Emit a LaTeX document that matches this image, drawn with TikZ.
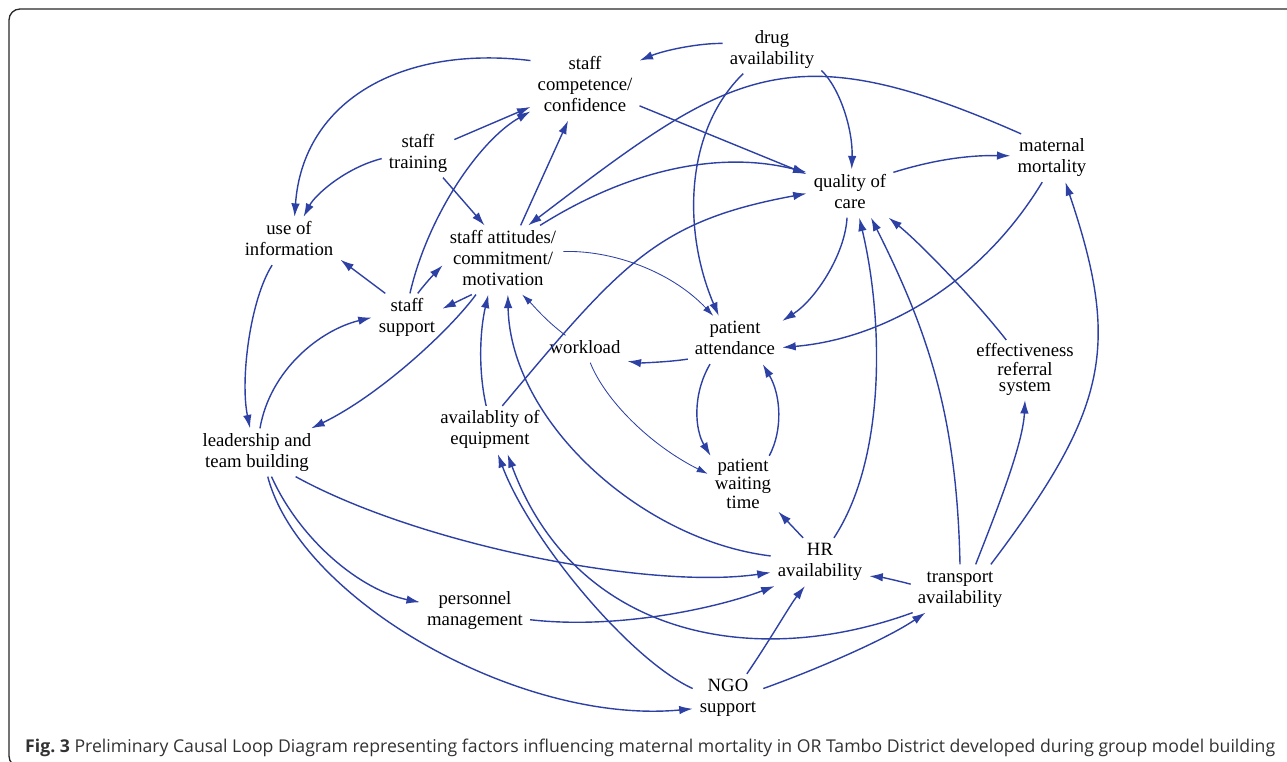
\documentclass[tikz,border=0pt]{standalone}
\usepackage{graphicx}
\usepackage{fontspec}
\setmainfont{Liberation Serif}
\newfontfamily\capfont{Open Sans}
\usetikzlibrary{arrows.meta}
\definecolor{cld}{RGB}{45,65,165}
\definecolor{framecol}{RGB}{40,40,40}
\definecolor{captxt}{RGB}{50,50,50}
\begin{document}
\begin{tikzpicture}[x=1bp,y=-1bp,
  var/.style={align=center, font=\fontsize{18.8}{21}\selectfont, inner xsep=7bp, inner ysep=3bp},
  tight/.style={var, font=\fontsize{18.8}{16.5}\selectfont},
  lnk/.style={draw=cld, line width=1.4bp, -{Latex[length=13.5bp,width=8.5bp]}},
  thin/.style={draw=cld, line width=0.85bp, -{Latex[length=11bp,width=7bp]}},
]
\useasboundingbox (0,0) rectangle (1287,762);
\begin{scope}
\clip (0,0) rectangle (1287,762);
\draw[framecol, line width=1.3bp, rounded corners=11bp] (9,9) rectangle (1330,767);
\end{scope}

% variables
\node[var] (dr) at (772,49.5) {\strut drug\\\strut availability};
\node[var] (comp) at (585,86) {\strut staff\\\strut competence/\\\strut confidence};
\node[var] (train) at (418,153.5) {\strut staff\\\strut training};
\node[var] (mat) at (1052,158) {\strut maternal\\\strut mortality};
\node[var] (qoc) at (850,193.5) {\strut quality of\\\strut care};
\node[var] (use) at (289,241) {\strut use of\\\strut information};
\node[var] (att) at (503,260) {\strut staff attitudes/\\\strut commitment/\\\strut motivation};
\node[var] (supp) at (407,317.5) {\strut staff\\\strut support};
\node[var] (patt) at (735,340) {\strut patient\\\strut attendance};
\node[var] (work) at (585,349) {\strut workload};
\node[tight] (eff) at (1025,370) {\strut effectiveness\\\strut referral\\\strut system};
\node[var] (equip) at (490,430) {\strut availablity of\\\strut equipment};
\node[var] (lead) at (257,452.5) {\strut leadership and\\\strut team building};
\node[tight] (pwt) at (743,486) {\strut patient\\\strut waiting\\\strut time};
\node[var] (hr) at (820,562) {\strut HR\\\strut availability};
\node[var] (trans) at (960,588.5) {\strut transport\\\strut availability};
\node[var] (pers) at (475,611) {\strut personnel\\\strut management};
\node[var] (ngo) at (728,698) {\strut NGO\\\strut support};

% links
\draw[lnk] (dr.173.5) .. controls (700,43) and (665,50) .. (comp.25);
\draw[lnk] (dr.-23) .. controls (840,88) and (853,130) .. (qoc.86);
\draw[lnk] (dr.220) .. controls (685,130) and (682,230) .. (patt.124);
\draw[lnk] (comp.-20.7) -- (qoc.156);
\draw[lnk] (mat.142) .. controls (786,30) and (730,72) .. (att.54.6);
\draw[lnk] (qoc.26) .. controls (930,161) and (965,155) .. (mat.177);
\draw[lnk] (mat.248) .. controls (980,285) and (882,339) .. (patt.-9.5);
\draw[lnk] (qoc.263) .. controls (845,255) and (815,300) .. (patt.22.6);
\draw[lnk] (att.43.5) .. controls (628,170) and (719,150) .. (qoc.154);
\draw[lnk] (equip.63) .. controls (622,263) and (657,221) .. (qoc.180.6);
\draw[thin] (att.8) .. controls (610,250) and (670,270) .. (patt.132);
\draw[lnk] (patt.202) .. controls (670,362) and (640,363) .. (work.-16.6);
\draw[thin] (work.145) .. controls (545,320) and (533,305) .. (att.-61);
\draw[thin] (work.-69) .. controls (605,400) and (650,445) .. (pwt.161.6);
\draw[lnk] (patt.224) .. controls (692,395) and (695,430) .. (pwt.137);
\draw[lnk] (pwt.49) .. controls (783,430) and (781,395) .. (patt.-41.4);
\draw[lnk] (hr.125.5) -- (pwt.-36.4);
\draw[lnk] (hr.60) .. controls (887,457) and (883,317) .. (qoc.-69);
\draw[lnk] (trans.90) .. controls (957,420) and (930,335) .. (qoc.-49);
\draw[lnk] (trans.57) .. controls (995,515) and (1023,445) .. (eff.-90);
\draw[lnk] (trans.38.5) .. controls (1108,409) and (1121,347) .. (mat.-61);
\draw[lnk] (trans.175) .. controls (895,580) and (880,577) .. (hr.-16);
\draw[lnk] (trans.207) .. controls (750,672) and (574,634) .. (equip.-54);
\draw[lnk] (ngo.15) .. controls (815,670) and (885,640) .. (trans.215.5);
\draw[lnk] (ngo.52) .. controls (770,640) and (790,605) .. (hr.238);
\draw[lnk] (ngo.165) .. controls (630,660) and (530,540) .. (equip.-72);
\draw[lnk] (lead.-66.7) .. controls (300,600) and (520,725) .. (ngo.197);
\draw[lnk] (lead.-59.5) .. controls (300,540) and (360,590) .. (pers.171);
\draw[lnk] (lead.-32) .. controls (420,545) and (650,590) .. (hr.192);
\draw[lnk] (use.235.6) .. controls (250,300) and (240,380) .. (lead.106);
\draw[lnk] (lead.83) .. controls (270,370) and (320,330) .. (supp.180.7);
\draw[lnk] (att.232) .. controls (450,330) and (380,395) .. (lead.24);
\draw[lnk] (supp.132) -- (use.-20);
\draw[lnk] (supp.66.7) .. controls (428,280) and (438,270) .. (att.185);
\draw[lnk] (att.228) -- (supp.14);
\draw[lnk] (supp.83) .. controls (428,215) and (480,140) .. (comp.205);
\draw[lnk] (train.21.7) -- (comp.201.6);
\draw[lnk] (train.-44) -- (att.118);
\draw[lnk] (train.188) .. controls (345,168) and (315,195) .. (use.59.4);
\draw[lnk] (comp.155.6) .. controls (404,45) and (303,99) .. (use.77);
\draw[lnk] (att.63.4) -- (comp.244);
\draw[lnk] (equip.99.5) .. controls (478,370) and (480,330) .. (att.247.6);
\draw[lnk] (eff.122.7) .. controls (975,300) and (920,243) .. (qoc.-32);
\draw[lnk] (hr.173) .. controls (640,540) and (510,420) .. (att.-82);
\draw[lnk] (pers.-9.3) .. controls (620,630) and (720,607) .. (hr.208.6);

% caption
\node[anchor=base west, inner sep=0pt, text=captxt] (cap) at (25,752)
  {\resizebox{1250bp}{!}{\capfont\fontsize{18}{20}\selectfont\textbf{Fig.\ 3} Preliminary Causal Loop Diagram representing factors influencing maternal mortality in OR Tambo District developed during group model building}};
\end{tikzpicture}
\end{document}
